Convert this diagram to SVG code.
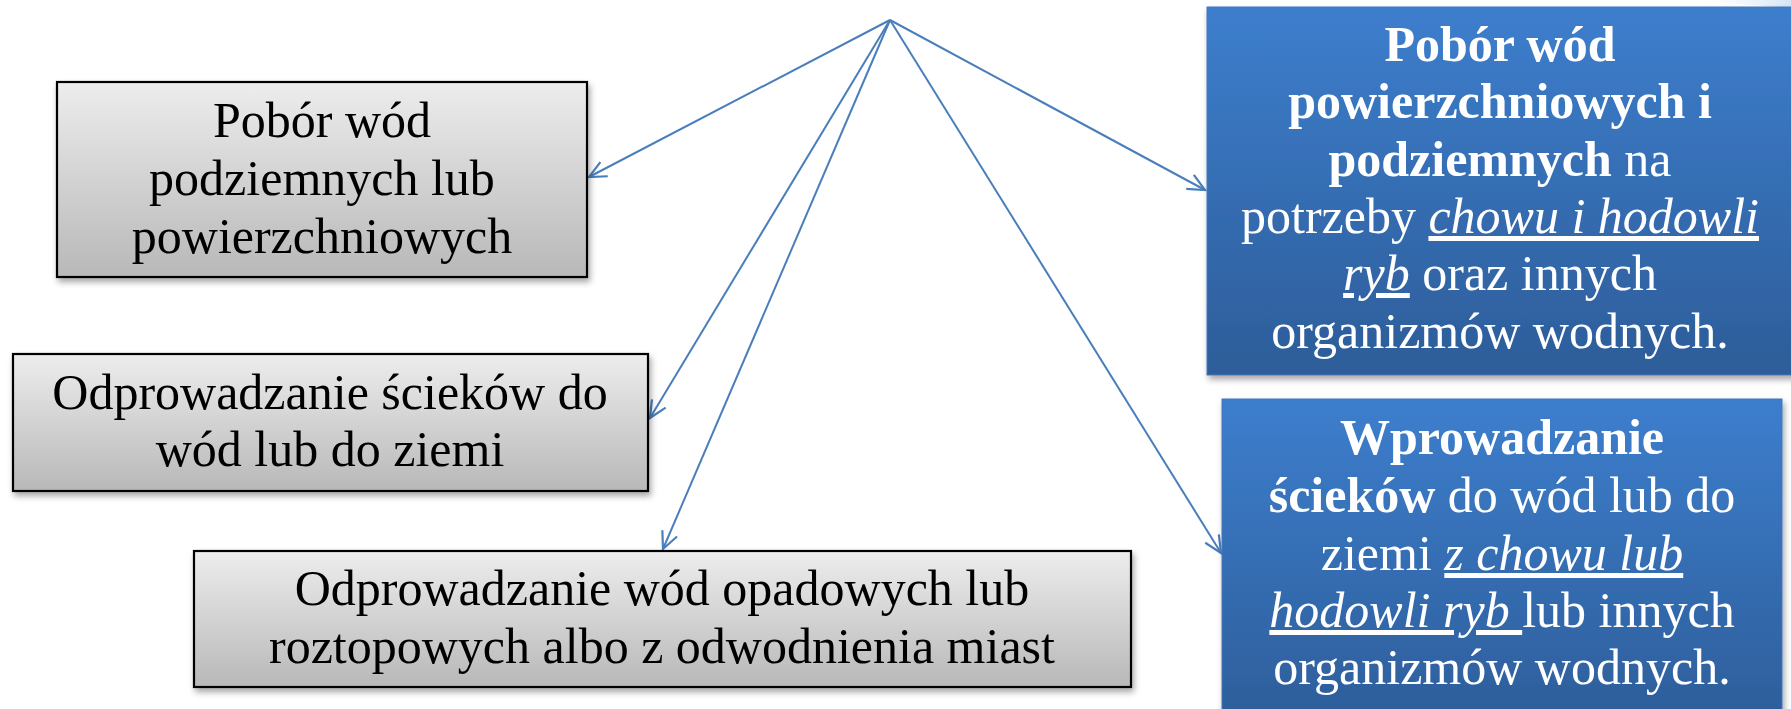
<svg xmlns="http://www.w3.org/2000/svg" width="1791" height="709" viewBox="0 0 1791 709">
  <style>
    .t { font-family: "Liberation Serif", "DejaVu Serif", serif; font-size: 50px; text-anchor: middle; }
    .dark { fill: #000000; }
    .light { fill: #ffffff; }
    .b { font-weight: bold; }
    .iu { font-style: italic; text-decoration: underline; }
    .gbox { fill: url(#gray); stroke: #000000; stroke-width: 2.2; filter: url(#shadow); }
    .bbox { fill: url(#blue); stroke: #4277bf; stroke-width: 1; filter: url(#shadow); }
    .conn { fill: none; stroke: #4a7ebb; stroke-width: 2; marker-end: url(#arrow); }
  </style>
  <defs>
    <linearGradient id="gray" x1="0" y1="0" x2="0" y2="1">
      <stop offset="0" stop-color="#ededed"/>
      <stop offset="1" stop-color="#b8b8b8"/>
    </linearGradient>
    <linearGradient id="blue" x1="0" y1="0" x2="0" y2="1">
      <stop offset="0" stop-color="#3d7ecd"/>
      <stop offset="1" stop-color="#2d5d99"/>
    </linearGradient>
    <filter id="shadow" x="-5%" y="-5%" width="115%" height="120%">
      <feDropShadow dx="2" dy="4" stdDeviation="3" flood-color="#000000" flood-opacity="0.35"/>
    </filter>
    <marker id="arrow" viewBox="-20 -11 22 22" refX="0" refY="0" markerWidth="22" markerHeight="22" markerUnits="userSpaceOnUse" orient="auto">
      <path d="M-17,-8 L0,0 L-17,8" fill="none" stroke="#4a7ebb" stroke-width="2.2"/>
    </marker>
    <linearGradient id="swoosh" x1="0" y1="0" x2="1" y2="0">
      <stop offset="0" stop-color="#ffffff" stop-opacity="0"/>
      <stop offset="1" stop-color="#d6e5f4"/>
    </linearGradient>
  </defs>
  <rect x="0" y="0" width="1791" height="709" fill="#ffffff"/>
  <path d="M1680,0 L1791,0 L1791,8 Q1740,4 1680,0 Z" fill="url(#swoosh)"/>

  <g id="connectors">
    <line class="conn" x1="890" y1="20" x2="589" y2="177"/>
    <line class="conn" x1="890" y1="20" x2="650" y2="418"/>
    <line class="conn" x1="890" y1="20" x2="663" y2="549"/>
    <line class="conn" x1="890" y1="20" x2="1205" y2="190"/>
    <line class="conn" x1="890" y1="20" x2="1221" y2="553"/>
  </g>

  <g id="node-pobor">
    <rect class="gbox" x="57" y="82" width="530" height="195"/>
    <text class="t dark" x="322" y="137">Pobór wód</text>
    <text class="t dark" x="322" y="195">podziemnych lub</text>
    <text class="t dark" x="322" y="253">powierzchniowych</text>
  </g>

  <g id="node-odprowadzanie-sciekow">
    <rect class="gbox" x="13" y="354" width="635" height="137"/>
    <text class="t dark" x="330" y="409">Odprowadzanie ścieków do</text>
    <text class="t dark" x="330" y="466">wód lub do ziemi</text>
  </g>

  <g id="node-odprowadzanie-wod">
    <rect class="gbox" x="194" y="551" width="937" height="136"/>
    <text class="t dark" x="662" y="605">Odprowadzanie wód opadowych lub</text>
    <text class="t dark" x="662" y="663">roztopowych albo z odwodnienia miast</text>
  </g>

  <g id="node-pobor-ryby">
    <rect class="bbox" x="1207" y="7" width="600" height="368"/>
    <text class="t light b" x="1500" y="61">Pobór wód</text>
    <text class="t light b" x="1500" y="118">powierzchniowych i</text>
    <text class="t light" x="1500" y="176" xml:space="preserve"><tspan class="b">podziemnych</tspan> na</text>
    <text class="t light" x="1500" y="233" xml:space="preserve">potrzeby <tspan class="iu">chowu i hodowli</tspan></text>
    <text class="t light" x="1500" y="290" xml:space="preserve"><tspan class="iu">ryb</tspan> oraz innych</text>
    <text class="t light" x="1500" y="348">organizmów wodnych.</text>
  </g>

  <g id="node-wprowadzanie">
    <rect class="bbox" x="1222" y="399" width="560" height="330"/>
    <text class="t light b" x="1502" y="454">Wprowadzanie</text>
    <text class="t light" x="1502" y="512" xml:space="preserve"><tspan class="b">ścieków</tspan> do wód lub do</text>
    <text class="t light" x="1502" y="570" xml:space="preserve">ziemi <tspan class="iu">z chowu lub</tspan></text>
    <text class="t light" x="1502" y="627" xml:space="preserve"><tspan class="iu">hodowli ryb </tspan>lub innych</text>
    <text class="t light" x="1502" y="684">organizmów wodnych.</text>
  </g>
</svg>
